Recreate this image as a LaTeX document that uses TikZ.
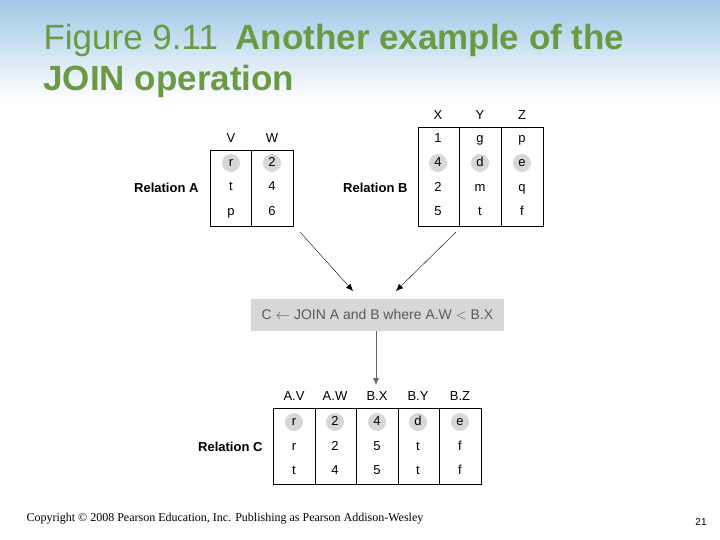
\documentclass[tikz,border=0pt]{standalone}
\usepackage{fontspec}
\setmainfont{Liberation Sans}
\newfontfamily\copyfont{Liberation Serif}
\usetikzlibrary{positioning,arrows.meta}
\definecolor{titlegreen}{RGB}{107,154,69}
\definecolor{hilite}{RGB}{215,215,215}
\definecolor{topblue}{RGB}{160,200,230}
\tikzset{
  cell/.style={font=\fontsize{13}{15}\selectfont,text height=9,text depth=2},
  relname/.style={font=\fontsize{13}{15}\selectfont\bfseries,anchor=east},
  hl/.style={fill=hilite},
  flow/.style={-{Latex[length=7,width=6]},thin}
}
\begin{document}
\begin{tikzpicture}[x=1pt,y=-1pt]
  \useasboundingbox (0,0) rectangle (720,540);
  \shade[top color=topblue,bottom color=white] (0,0) rectangle (720,100);

  % title
  \node[anchor=base west,text=titlegreen,font=\fontsize{35}{40}\selectfont] (title1) at (40,50)
    {Figure 9.11\enspace\textbf{Another example of the}};
  \node[anchor=base west,text=titlegreen,font=\fontsize{35}{40}\selectfont\bfseries] (title2) at (40,91)
    {JOIN operation};

  % Relation A
  \draw (210,150) rectangle (293,226) (251,150) -- (251,226);
  \foreach \x/\l in {231/V, 272/W} \node[cell] (ha\l) at (\x,139) {\l};
  \fill[hl] (231,163) circle (9) (272,163) circle (9);
  \foreach \y/\v/\w [count=\i] in {163/r/2, 187/t/4, 212/p/6} {
    \node[cell] (a\i v) at (231,\y) {\v};
    \node[cell] (a\i w) at (272,\y) {\w};
  }
  \node[relname] (relA) at (202,188) {Relation A};

  % Relation B
  \draw (418,127) rectangle (543,226) (459,127) -- (459,226) (501,127) -- (501,226);
  \foreach \x/\l in {438/X, 480/Y, 522/Z} \node[cell] (hb\l) at (\x,116) {\l};
  \fill[hl] (438,163) circle (9) (480,163) circle (9) (522,163) circle (9);
  \foreach \y/\p/\q/\r [count=\i] in {139/1/g/p, 163/4/d/e, 188/2/m/q, 212/5/t/f} {
    \node[cell] (b\i x) at (438,\y) {\p};
    \node[cell] (b\i y) at (480,\y) {\q};
    \node[cell] (b\i z) at (522,\y) {\r};
  }
  \node[relname] (relB) at (411,188) {Relation B};

  % join statement
  \node[fill=hilite,minimum width=253,minimum height=32,inner sep=0,
        text=black!65,font=\fontsize{14}{16}\selectfont] (join) at (377.5,315)
    {C $\leftarrow$ JOIN A and B where A.W $<$ B.X};
  \coordinate (fromA) at (300,232);
  \coordinate (fromB) at (456,232);
  \coordinate (toC) at (376,385);
  \draw[flow] (fromA) -- (353,291);
  \draw[flow] (fromB) -- (396,291);
  \draw[flow,black!60] (join.south -| toC) -- (toC);

  % Relation C
  \draw (273,408) rectangle (481,484);
  \foreach \x in {315,356,398,439} \draw (\x,408) -- (\x,484);
  \foreach \x/\l [count=\i] in {294/A.V, 335/A.W, 377/B.X, 418/B.Y, 460/B.Z}
    \node[cell] (hc\i) at (\x,397) {\l};
  \foreach \x in {294,335,377,418,460} \fill[hl] (\x,422) circle (9);
  \foreach \y/\p/\q/\r/\s/\t [count=\i] in {422/r/2/4/d/e, 447/r/2/5/t/f, 471/t/4/5/t/f} {
    \foreach \x/\v [count=\j] in {294/\p, 335/\q, 377/\r, 418/\s, 460/\t}
      \node[cell] (c\i\j) at (\x,\y) {\v};
  }
  \node[relname] (relC) at (266,447) {Relation C};

  % footer
  \node[anchor=base west,font=\copyfont\fontsize{12}{14}\selectfont] (copy) at (23,521)
    {Copyright \textcopyright\ 2008 Pearson Education, Inc. Publishing as Pearson Addison-Wesley};
  \node[anchor=base,font=\fontsize{10}{12}\selectfont] (page) at (701,525) {21};
\end{tikzpicture}
\end{document}
